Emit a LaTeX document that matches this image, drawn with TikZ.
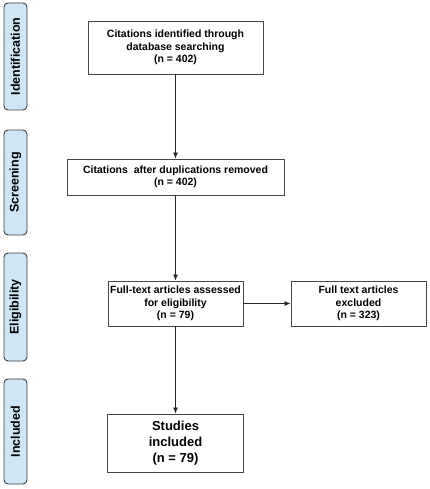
\documentclass[tikz,border=0pt]{standalone}
\usepackage{fontspec}
\setmainfont{Liberation Sans}
\usetikzlibrary{arrows.meta}
\definecolor{sidefill}{RGB}{207,230,246}
\definecolor{sidedraw}{RGB}{60,60,60}
\definecolor{boxdraw}{RGB}{70,70,70}
\tikzset{
  sidelabel/.style={draw=sidedraw, fill=sidefill, rounded corners=4pt, line width=0.9pt,
    minimum width=23pt, inner sep=0pt, rotate=90, font=\fontsize{12.5}{14}\selectfont\bfseries},
  flowbox/.style={draw=boxdraw, line width=0.9pt, align=center, inner sep=0pt,
    font=\fontsize{10.5}{12.5}\selectfont\bfseries},
  flowarrow/.style={draw=black!85, line width=0.8pt, -{Latex[length=6pt,width=5pt]}}
}
\begin{document}
\begin{tikzpicture}[x=1pt,y=-1pt]
\useasboundingbox (0,0) rectangle (429,489);
% side labels (rotated: minimum width is along the text)
\node[sidelabel, minimum height=23pt, minimum width=107pt] (sid) at (15.5,56.5) {Identification};
\node[sidelabel, minimum height=23pt, minimum width=105pt] (ssc) at (15.5,182.5) {Screening};
\node[sidelabel, minimum height=23pt, minimum width=108pt] (sel) at (15.5,307) {Eligibility};
\node[sidelabel, minimum height=23pt, minimum width=105pt] (sin) at (15.5,431.5) {Included};
% boxes
\node[flowbox, minimum width=175pt, minimum height=53pt] (b1) at (175.5,47.5)
  {Citations identified through\\database searching\\(n = 402)};
\node[flowbox, minimum width=217pt, minimum height=36pt] (b2) at (175.5,177)
  {Citations\ \ after duplications removed\\(n = 402)};
\node[flowbox, minimum width=135pt, minimum height=45pt] (b3) at (175.5,303.5)
  {Full-text articles assessed\\for eligibility\\(n = 79)};
\node[flowbox, minimum width=135pt, minimum height=45pt] (b4) at (358.5,303.5)
  {Full text articles\\excluded\\(n = 323)};
\node[flowbox, minimum width=136pt, minimum height=58pt, font=\fontsize{13}{16}\selectfont\bfseries] (b5) at (175.5,443)
  {Studies\\included\\(n = 79)};
% arrows
\draw[flowarrow] (b1) -- (b2);
\draw[flowarrow] (b2) -- (b3);
\draw[flowarrow] (b3) -- (b5);
\draw[flowarrow] (b3) -- (b4);
\end{tikzpicture}
\end{document}
